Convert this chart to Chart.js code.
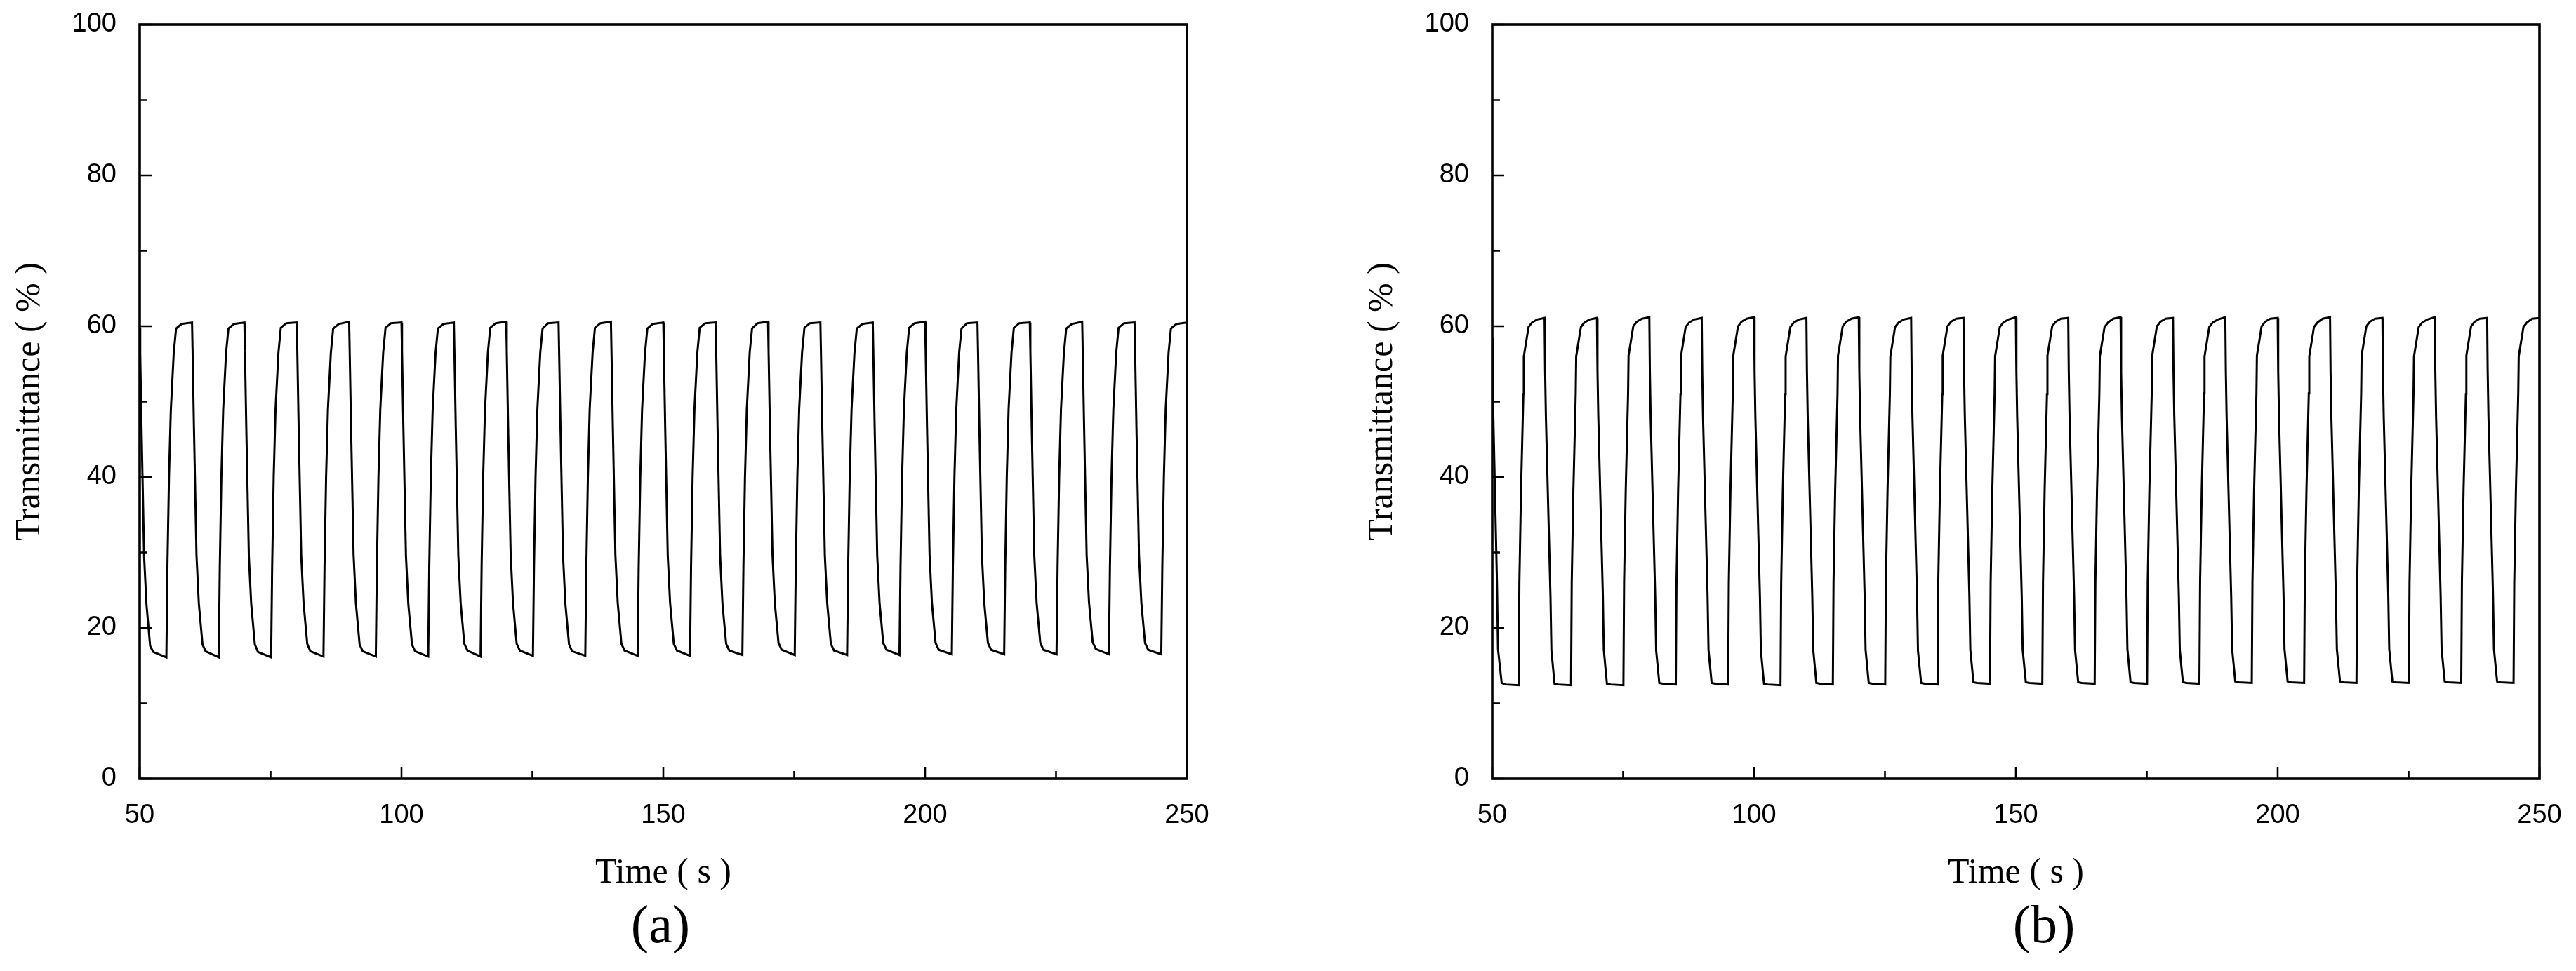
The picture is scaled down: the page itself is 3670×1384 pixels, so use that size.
<!DOCTYPE html>
<html>
<head>
<meta charset="utf-8">
<script src="https://cdn.jsdelivr.net/npm/chart.js@4.4.1/dist/chart.umd.min.js"></script>
<style>
  html, body { margin: 0; padding: 0; background: #ffffff; }
  body { width: 3670px; height: 1384px; position: relative; overflow: hidden; }
  canvas { position: absolute; top: 0; }
  #chartA { left: 0px; }
  #chartB { left: 1927px; }
</style>
</head>
<body>
<canvas id="chartA" width="1900" height="1384"></canvas>
<canvas id="chartB" width="1743" height="1384"></canvas>
<script>
// ---------------- data ----------------
const panelLabels = ['(a)', '(b)'];
const xTitle = 'Time ( s )';
const yTitle = 'Transmittance ( % )';

const xMajorTicks = [50, 100, 150, 200, 250];
const xMinorTicks = [75, 125, 175, 225];
const yMajorTicks = [0, 20, 40, 60, 80, 100];
const yMinorTicks = [10, 30, 50, 70, 90];

// Panel (a): time (s)
const timeA = [
  50,50.1,50.36,50.85,51.3,52,52.6,55.1,55.3,55.6,55.95,56.5,56.95,58,
  60,60.1,60.36,60.85,61.3,62,62.6,65.1,65.3,65.6,65.95,66.5,66.95,68,
  70,70.1,70.36,70.85,71.3,72,72.6,75.1,75.3,75.6,75.95,76.5,76.95,78,
  80,80.1,80.36,80.85,81.3,82,82.6,85.1,85.3,85.6,85.95,86.5,86.95,88,
  90,90.1,90.36,90.85,91.3,92,92.6,95.1,95.3,95.6,95.95,96.5,96.95,98,
  100,100.1,100.36,100.85,101.3,102,102.6,105.1,105.3,105.6,105.95,106.5,106.95,108,
  110,110.1,110.36,110.85,111.3,112,112.6,115.1,115.3,115.6,115.95,116.5,116.95,118,
  120,120.1,120.36,120.85,121.3,122,122.6,125.1,125.3,125.6,125.95,126.5,126.95,128,
  130,130.1,130.36,130.85,131.3,132,132.6,135.1,135.3,135.6,135.95,136.5,136.95,138,
  140,140.1,140.36,140.85,141.3,142,142.6,145.1,145.3,145.6,145.95,146.5,146.95,148,
  150,150.1,150.36,150.85,151.3,152,152.6,155.1,155.3,155.6,155.95,156.5,156.95,158,
  160,160.1,160.36,160.85,161.3,162,162.6,165.1,165.3,165.6,165.95,166.5,166.95,168,
  170,170.1,170.36,170.85,171.3,172,172.6,175.1,175.3,175.6,175.95,176.5,176.95,178,
  180,180.1,180.36,180.85,181.3,182,182.6,185.1,185.3,185.6,185.95,186.5,186.95,188,
  190,190.1,190.36,190.85,191.3,192,192.6,195.1,195.3,195.6,195.95,196.5,196.95,198,
  200,200.1,200.36,200.85,201.3,202,202.6,205.1,205.3,205.6,205.95,206.5,206.95,208,
  210,210.1,210.36,210.85,211.3,212,212.6,215.1,215.3,215.6,215.95,216.5,216.95,218,
  220,220.1,220.36,220.85,221.3,222,222.6,225.1,225.3,225.6,225.95,226.5,226.95,228,
  230,230.1,230.36,230.85,231.3,232,232.6,235.1,235.3,235.6,235.95,236.5,236.95,238,
  240,240.1,240.36,240.85,241.3,242,242.6,245.1,245.3,245.6,245.95,246.5,246.95,248,
  250
];
// Panel (a): transmittance (%)
const transA = [
  59.8,56.5,46.2,29.4,23.1,17.6,16.8,16.1,28.2,40.1,48.9,56.4,59.7,60.3,
  60.5,56.9,46.7,29.6,23.2,17.8,16.9,16.1,28.0,40.0,49.0,56.5,59.7,60.3,
  60.5,56.8,46.6,29.5,23.2,17.8,16.8,16.1,28.1,40.2,49.1,56.5,59.8,60.4,
  60.5,56.9,46.7,29.6,23.3,17.9,16.9,16.2,28.0,40.0,49.0,56.4,59.7,60.3,
  60.6,56.9,46.8,29.7,23.2,17.8,16.9,16.2,28.1,40.1,49.0,56.5,59.8,60.4,
  60.5,56.8,46.7,29.6,23.2,17.8,16.9,16.2,28.0,40.0,48.9,56.4,59.7,60.3,
  60.5,56.9,46.7,29.6,23.3,17.9,17.0,16.2,28.1,40.1,49.0,56.5,59.8,60.4,
  60.6,56.9,46.8,29.7,23.3,17.9,17.0,16.3,28.0,40.0,49.0,56.5,59.7,60.4,
  60.5,56.8,46.7,29.6,23.2,17.8,16.9,16.3,28.1,40.1,49.1,56.5,59.8,60.4,
  60.6,56.9,46.8,29.7,23.3,17.9,17.0,16.3,28.0,40.0,49.0,56.4,59.7,60.3,
  60.5,56.9,46.7,29.6,23.3,17.9,17.0,16.3,28.1,40.1,49.0,56.5,59.8,60.4,
  60.5,56.8,46.7,29.6,23.2,17.9,17.0,16.4,28.0,40.0,49.0,56.5,59.7,60.4,
  60.6,56.9,46.8,29.7,23.3,18.0,17.1,16.4,28.1,40.1,49.1,56.5,59.8,60.4,
  60.5,56.9,46.7,29.6,23.3,17.9,17.0,16.4,28.0,40.0,49.0,56.4,59.7,60.3,
  60.5,56.8,46.7,29.6,23.3,18.0,17.1,16.4,28.1,40.1,49.0,56.5,59.8,60.4,
  60.6,56.9,46.8,29.7,23.3,18.0,17.1,16.5,28.0,40.0,49.0,56.5,59.7,60.4,
  60.5,56.9,46.7,29.6,23.3,18.0,17.1,16.5,28.1,40.1,49.1,56.5,59.8,60.4,
  60.5,56.8,46.7,29.6,23.3,18.0,17.1,16.5,28.0,40.0,49.0,56.4,59.7,60.3,
  60.6,56.9,46.8,29.7,23.4,18.1,17.2,16.5,28.1,40.1,49.0,56.5,59.8,60.4,
  60.5,56.9,46.7,29.6,23.3,18.0,17.1,16.5,28.0,40.0,49.0,56.5,59.7,60.3,
  60.5
];

// Panel (b): time (s)
const timeB = [
  50,50.1,50.25,50.9,51.1,51.8,52.5,55.05,55.18,55.5,55.94,56.03,56.93,57.6,58.6,
  60,60.1,60.25,61.12,61.3,61.9,62.6,65.05,65.18,65.5,65.94,66.03,66.93,67.6,68.6,
  70,70.1,70.25,71.12,71.3,71.9,72.6,75.05,75.18,75.5,75.94,76.03,76.93,77.6,78.6,
  80,80.1,80.25,81.12,81.3,81.9,82.6,85.05,85.18,85.5,85.94,86.03,86.93,87.6,88.6,
  90,90.1,90.25,91.12,91.3,91.9,92.6,95.05,95.18,95.5,95.94,96.03,96.93,97.6,98.6,
  100,100.1,100.25,101.12,101.3,101.9,102.6,105.05,105.18,105.5,105.94,106.03,106.93,107.6,108.6,
  110,110.1,110.25,111.12,111.3,111.9,112.6,115.05,115.18,115.5,115.94,116.03,116.93,117.6,118.6,
  120,120.1,120.25,121.12,121.3,121.9,122.6,125.05,125.18,125.5,125.94,126.03,126.93,127.6,128.6,
  130,130.1,130.25,131.12,131.3,131.9,132.6,135.05,135.18,135.5,135.94,136.03,136.93,137.6,138.6,
  140,140.1,140.25,141.12,141.3,141.9,142.6,145.05,145.18,145.5,145.94,146.03,146.93,147.6,148.6,
  150,150.1,150.25,151.12,151.3,151.9,152.6,155.05,155.18,155.5,155.94,156.03,156.93,157.6,158.6,
  160,160.1,160.25,161.12,161.3,161.9,162.6,165.05,165.18,165.5,165.94,166.03,166.93,167.6,168.6,
  170,170.1,170.25,171.12,171.3,171.9,172.6,175.05,175.18,175.5,175.94,176.03,176.93,177.6,178.6,
  180,180.1,180.25,181.12,181.3,181.9,182.6,185.05,185.18,185.5,185.94,186.03,186.93,187.6,188.6,
  190,190.1,190.25,191.12,191.3,191.9,192.6,195.05,195.18,195.5,195.94,196.03,196.93,197.6,198.6,
  200,200.1,200.25,201.12,201.3,201.9,202.6,205.05,205.18,205.5,205.94,206.03,206.93,207.6,208.6,
  210,210.1,210.25,211.12,211.3,211.9,212.6,215.05,215.18,215.5,215.94,216.03,216.93,217.6,218.6,
  220,220.1,220.25,221.12,221.3,221.9,222.6,225.05,225.18,225.5,225.94,226.03,226.93,227.6,228.6,
  230,230.1,230.25,231.12,231.3,231.9,232.6,235.05,235.18,235.5,235.94,236.03,236.93,237.6,238.6,
  240,240.1,240.25,241.12,241.3,241.9,242.6,245.05,245.18,245.5,245.94,246.03,246.93,247.6,248.6,
  250
];
// Panel (b): transmittance (%)
const transB = [
  58.5,52.0,46.5,26.0,17.2,12.7,12.5,12.4,26.0,38.4,51.0,56.0,59.9,60.5,60.9,
  61.1,54.0,48.0,24.2,17.0,12.6,12.5,12.4,26.0,38.4,51.0,56.0,59.9,60.5,60.9,
  61.1,54.1,48.1,24.3,17.1,12.6,12.5,12.4,26.1,38.5,51.1,56.1,60.0,60.6,61.0,
  61.2,54.0,48.0,24.2,17.0,12.7,12.6,12.5,26.0,38.4,51.0,56.0,59.9,60.5,60.9,
  61.1,54.0,48.1,24.3,17.1,12.7,12.6,12.5,26.1,38.5,51.1,56.1,60.0,60.6,61.0,
  61.2,54.1,48.0,24.2,17.0,12.6,12.5,12.4,26.0,38.4,51.0,56.0,59.9,60.5,60.9,
  61.1,54.0,48.0,24.2,17.1,12.7,12.6,12.5,26.1,38.5,51.0,56.1,60.0,60.6,61.0,
  61.2,54.1,48.1,24.3,17.1,12.7,12.6,12.5,26.0,38.4,51.1,56.0,59.9,60.5,60.9,
  61.1,54.0,48.0,24.2,17.0,12.7,12.6,12.5,26.1,38.5,51.0,56.1,60.0,60.6,61.0,
  61.1,54.1,48.1,24.3,17.1,12.8,12.7,12.6,26.0,38.4,51.1,56.0,59.9,60.5,60.9,
  61.2,54.0,48.0,24.2,17.1,12.8,12.7,12.6,26.1,38.5,51.0,56.1,60.0,60.6,61.0,
  61.1,54.1,48.1,24.3,17.1,12.8,12.7,12.6,26.0,38.4,51.1,56.0,59.9,60.5,61.0,
  61.2,54.0,48.0,24.2,17.2,12.8,12.7,12.6,26.1,38.5,51.0,56.1,60.0,60.6,61.0,
  61.1,54.1,48.1,24.3,17.1,12.8,12.7,12.6,26.0,38.4,51.1,56.0,59.9,60.5,60.9,
  61.2,54.0,48.0,24.2,17.2,12.9,12.8,12.7,26.1,38.5,51.0,56.1,60.0,60.6,61.0,
  61.1,54.1,48.1,24.3,17.2,12.9,12.8,12.7,26.0,38.4,51.1,56.0,59.9,60.5,61.0,
  61.2,54.0,48.0,24.2,17.2,12.9,12.8,12.7,26.1,38.5,51.0,56.1,60.0,60.6,61.0,
  61.1,54.1,48.1,24.3,17.2,12.9,12.8,12.7,26.0,38.4,51.1,56.0,59.9,60.5,60.9,
  61.2,54.0,48.0,24.2,17.2,12.9,12.8,12.7,26.1,38.5,51.0,56.1,60.0,60.6,61.0,
  61.1,54.1,48.1,24.3,17.2,12.9,12.8,12.7,26.0,38.4,51.1,56.0,59.9,60.5,61.0,
  61.1
];

// ---------------- plugins ----------------
const frameTicks = {
  id: 'frameTicks',
  afterDatasetsDraw(chart) {
    const { ctx, chartArea: a, scales: { x, y } } = chart;
    ctx.save();
    ctx.strokeStyle = '#000';
    ctx.lineCap = 'butt';
    ctx.lineWidth = 2.6;
    ctx.beginPath();
    xMajorTicks.forEach(v => { const p = x.getPixelForValue(v); ctx.moveTo(p, a.bottom); ctx.lineTo(p, a.bottom - 17); });
    xMinorTicks.forEach(v => { const p = x.getPixelForValue(v); ctx.moveTo(p, a.bottom); ctx.lineTo(p, a.bottom - 11); });
    yMajorTicks.forEach(v => { const p = y.getPixelForValue(v); ctx.moveTo(a.left, p); ctx.lineTo(a.left + 17, p); });
    yMinorTicks.forEach(v => { const p = y.getPixelForValue(v); ctx.moveTo(a.left, p); ctx.lineTo(a.left + 11, p); });
    ctx.stroke();
    ctx.lineWidth = 3.6;
    ctx.strokeRect(a.left, a.top, a.right - a.left, a.bottom - a.top);
    ctx.restore();
  }
};

const panelLabel = {
  id: 'panelLabel',
  afterDraw(chart, args, opts) {
    const { ctx, chartArea: a } = chart;
    ctx.save();
    ctx.fillStyle = '#000';
    ctx.font = '76px "Liberation Serif", "Times New Roman", serif';
    ctx.textAlign = 'center';
    ctx.textBaseline = 'middle';
    ctx.fillText(opts.text, (a.left + a.right) / 2 + opts.dx, opts.y);
    ctx.restore();
  }
};

// ---------------- charts ----------------
function makeChart(canvasId, times, values, label, dx, rightPad) {
  const points = times.map((t, i) => ({ x: t, y: values[i] }));
  return new Chart(document.getElementById(canvasId), {
    type: 'line',
    data: {
      datasets: [{
        data: points,
        borderColor: '#000',
        borderWidth: 3,
        pointRadius: 0,
        tension: 0,
        fill: false
      }]
    },
    options: {
      responsive: false,
      animation: false,
      devicePixelRatio: 1,
      events: [],
      layout: { padding: { left: 0, top: 35, right: rightPad, bottom: 104 } },
      plugins: {
        legend: { display: false },
        tooltip: { enabled: false },
        title: { display: false },
        panelLabel: { text: label, dx: dx, y: 1323 }
      },
      scales: {
        x: {
          type: 'linear',
          min: 50, max: 250,
          afterBuildTicks: s => { s.ticks = xMajorTicks.map(v => ({ value: v })); },
          afterFit: s => { s.height = 170; s.paddingLeft = 0; s.paddingRight = 0; },
          grid: { display: false },
          border: { display: false },
          ticks: {
            color: '#000',
            padding: 22,
            maxRotation: 0,
            autoSkip: false,
            font: { family: '"Liberation Sans", Arial, sans-serif', size: 38 }
          },
          title: {
            display: true,
            text: xTitle,
            color: '#000',
            padding: { top: 0, bottom: 5 },
            font: { family: '"Liberation Serif", "Times New Roman", serif', size: 50 }
          }
        },
        y: {
          type: 'linear',
          min: 0, max: 100,
          afterBuildTicks: s => { s.ticks = yMajorTicks.map(v => ({ value: v })); },
          afterFit: s => { s.width = 199; s.paddingTop = 0; s.paddingBottom = 0; },
          grid: { display: false },
          border: { display: false },
          ticks: {
            color: '#000',
            padding: 25,
            autoSkip: false,
            font: { family: '"Liberation Sans", Arial, sans-serif', size: 38 }
          },
          title: {
            display: true,
            text: yTitle,
            color: '#000',
            padding: { top: 12.5, bottom: 0 },
            font: { family: '"Liberation Serif", "Times New Roman", serif', size: 50 }
          }
        }
      }
    },
    plugins: [frameTicks, panelLabel]
  });
}

makeChart('chartA', timeA, transA, panelLabels[0], -4, 209);
makeChart('chartB', timeB, transB, panelLabels[1], 40, 52);
</script>
</body>
</html>
